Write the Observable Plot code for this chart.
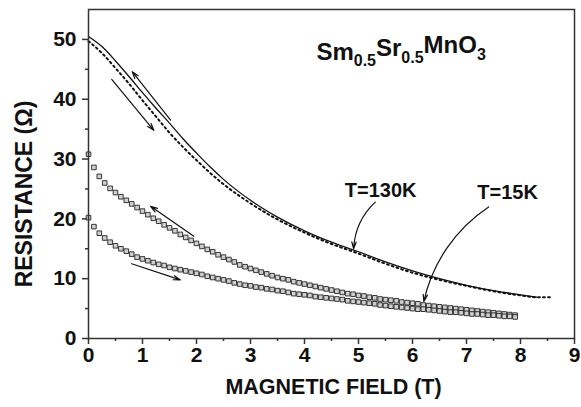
<!DOCTYPE html>
<html><head><meta charset="utf-8">
<script src="https://cdn.jsdelivr.net/npm/d3@7"></script>
<script src="https://cdn.jsdelivr.net/npm/@observablehq/plot@0.6"></script>
<style>body{margin:0;background:#fff} #chart svg{display:block}</style>
</head><body><div id="chart"></div>
<script>
// T = 130 K, field decreasing (solid)
const hotDownField = [0,0.25,0.5,0.75,1,1.25,1.5,1.75,2,2.25,2.5,3,3.5,4,4.5,5,5.5,6,6.5,7,7.5,8,8.3];
const hotDownR     = [50.5,48.8,46.4,43.8,41.1,38.5,36.0,33.4,31.0,28.7,26.6,23.1,20.3,18.0,16.1,14.5,12.8,11.3,10.0,8.9,8.0,7.3,6.9];
// T = 130 K, field increasing (dotted)
const hotUpField = [0,0.25,0.5,0.75,1,1.25,1.5,1.75,2,2.25,2.5,3,3.5,4,4.5,5,5.5,6,6.5,7,7.5,8,8.3,8.6];
const hotUpR     = [49.7,47.7,45.2,42.6,39.8,37.1,34.4,32.0,29.8,27.7,25.8,22.6,19.9,17.7,15.8,14.2,12.5,11.0,9.8,8.8,7.9,7.2,6.9,6.9];
// T = 15 K field values (squares)
const coldField = [0,0.1,0.2,0.3,0.4,0.5,0.6,0.7,0.8,0.9,1,1.1,1.2,1.3,1.4,1.5,1.6,1.7,1.8,1.9,2,2.1,2.2,2.3,2.4,2.5,2.6,2.7,2.8,2.9,3,3.1,3.2,3.3,3.4,3.5,3.6,3.7,3.8,3.9,4,4.1,4.2,4.3,4.4,4.5,4.6,4.7,4.8,4.9,5,5.1,5.2,5.3,5.4,5.5,5.6,5.7,5.8,5.9,6,6.1,6.2,6.3,6.4,6.5,6.6,6.7,6.8,6.9,7,7.1,7.2,7.3,7.4,7.5,7.6,7.7,7.8,7.9];
// T = 15 K, field decreasing (upper branch)
const coldDownR = [30.8,28.6,27.1,26.0,25.1,24.4,23.7,23.1,22.5,21.9,21.3,20.7,20.1,19.6,19.0,18.5,18.0,17.4,16.9,16.4,15.9,15.4,14.9,14.5,14.0,13.6,13.2,12.8,12.3,12.0,11.7,11.4,11.1,10.8,10.5,10.2,10.0,9.8,9.5,9.3,9.1,8.9,8.7,8.5,8.3,8.1,7.9,7.7,7.5,7.4,7.2,7.1,6.9,6.8,6.6,6.5,6.4,6.3,6.1,6.0,5.9,5.8,5.6,5.5,5.4,5.3,5.2,5.1,5.0,4.9,4.8,4.7,4.6,4.5,4.4,4.3,4.2,4.1,4.0,3.9];
// T = 15 K, field increasing (lower branch)
const coldUpR = [20.2,18.7,17.6,16.8,16.1,15.5,15.0,14.6,14.1,13.6,13.3,13.0,12.7,12.4,12.2,11.9,11.7,11.5,11.3,11.1,10.9,10.7,10.4,10.2,10.0,9.8,9.6,9.3,9.1,8.9,8.8,8.6,8.5,8.3,8.2,8.0,7.9,7.7,7.5,7.4,7.3,7.2,7.0,6.9,6.8,6.7,6.6,6.5,6.3,6.2,6.1,6.0,5.9,5.8,5.6,5.5,5.4,5.3,5.2,5.1,5.0,4.9,4.9,4.8,4.7,4.6,4.5,4.4,4.4,4.3,4.2,4.1,4.1,4.0,3.9,3.9,3.8,3.7,3.7,3.6];

const xTicks = [0,1,2,3,4,5,6,7,8,9];
const xMinorTicks = [0.5,1.5,2.5,3.5,4.5,5.5,6.5,7.5,8.5];
const yTicks = [0,10,20,30,40,50];
const yMinorTicks = [5,15,25,35,45];

// straight sweep-direction arrows (data coordinates)
const dirX1 = [1.52,0.43,1.95,0.80];
const dirY1 = [36.5,43.3,17.1,12.5];
const dirX2 = [0.81,1.21,1.15,1.70];
const dirY2 = [44.6,34.8,22.1,9.8];
// curved label arrows
const callX1 = [5.31,7.41];
const callY1 = [22.8,22.0];
const callX2 = [4.91,6.21];
const callY2 = [15.0,6.2];

const labelText = ["T=130K","T=15K"];
const labelX = [5.41,7.76];
const labelY = [24.7,24.4];

const formulaParts = [["Sm",false],["0.5",true],["Sr",false],["0.5",true],["MnO",false],["3",true]];

const hotDown = hotDownField.map((f,i)=>({f, r: hotDownR[i]}));
const hotUp = hotUpField.map((f,i)=>({f, r: hotUpR[i]}));
const coldDown = coldField.map((f,i)=>({f, r: coldDownR[i]}));
const coldUp = coldField.map((f,i)=>({f, r: coldUpR[i]}));
const dirArrows = dirX1.map((_,i)=>({x1: dirX1[i], y1: dirY1[i], x2: dirX2[i], y2: dirY2[i]}));
const callArrows = callX1.map((_,i)=>({x1: callX1[i], y1: callY1[i], x2: callX2[i], y2: callY2[i]}));
const labels = labelText.map((t,i)=>({t, x: labelX[i], y: labelY[i]}));

const font = "'Liberation Sans', Arial, Helvetica, sans-serif";

const chart = Plot.plot({
  width: 581, height: 407,
  marginLeft: 88, marginRight: 7, marginTop: 9, marginBottom: 69,
  x: {domain: [0, 9]},
  y: {domain: [0, 55]},
  style: {fontFamily: font, fontWeight: "bold", background: "white", color: "#111"},
  marks: [
    Plot.axisX({ticks: xTicks, tickSize: 6, tickPadding: 3, fontSize: 21, label: null, stroke: "#333", strokeWidth: 1.5}),
    Plot.axisX({ticks: xMinorTicks, tickSize: 3, tickFormat: () => "", label: null, stroke: "#333", strokeWidth: 1.5}),
    Plot.axisY({ticks: yTicks, tickSize: 6, tickPadding: 6, fontSize: 21, label: null, stroke: "#333", strokeWidth: 1.5}),
    Plot.axisY({ticks: yMinorTicks, tickSize: 3, tickFormat: () => "", label: null, stroke: "#333", strokeWidth: 1.5}),
    Plot.line(hotUp, {x: "f", y: "r", curve: "monotone-x", stroke: "#111", strokeWidth: 2, strokeDasharray: "1.8 3.2"}),
    Plot.line(hotDown, {x: "f", y: "r", curve: "monotone-x", stroke: "#111", strokeWidth: 1.3}),
    Plot.dot(coldDown, {x: "f", y: "r", symbol: "square", r: 2.6, fill: "#d0d0d0", stroke: "#222", strokeWidth: 0.9}),
    Plot.dot(coldUp, {x: "f", y: "r", symbol: "square", r: 2.6, fill: "#d0d0d0", stroke: "#222", strokeWidth: 0.9}),
    Plot.arrow(dirArrows, {x1: "x1", y1: "y1", x2: "x2", y2: "y2", stroke: "#111", strokeWidth: 1.2, headLength: 9, headAngle: 35}),
    Plot.arrow(callArrows, {x1: "x1", y1: "y1", x2: "x2", y2: "y2", bend: -22, stroke: "#111", strokeWidth: 1.2, headLength: 9, headAngle: 35}),
    Plot.text(labels, {x: "x", y: "y", text: "t", fontSize: 20, fontWeight: "bold", fill: "#111", textAnchor: "middle"}),
    Plot.text(["formula"], {x: [4.22], y: [47.9], text: (d) => d, textAnchor: "start", fontSize: 24, fontWeight: "bold", fill: "#111", letterSpacing: "0.6px"}),
    Plot.text(["RESISTANCE (\u03A9)"], {frameAnchor: "left", textAnchor: "middle", rotate: -90, dx: -64, dy: 20, fontSize: 23, fontWeight: "bold", fill: "#111", letterSpacing: "0.4px"}),
    Plot.text(["MAGNETIC FIELD (T)"], {frameAnchor: "bottom", dx: 2, dy: 55, fontSize: 21.5, fontWeight: "bold", fill: "#111"}),
    Plot.frame({stroke: "#333", strokeWidth: 1.5})
  ]
});
document.getElementById("chart").appendChild(chart);

// build the chemical formula with subscripts
const ft = d3.select(chart).selectAll("text").filter(function() { return this.textContent === "formula"; });
ft.text(null);
let sub = false;
formulaParts.forEach(([s, isSub]) => {
  const ts = ft.append("tspan").text(s);
  if (isSub) {
    ts.attr("font-size", 16);
    if (!sub) { ts.attr("dy", "0.4em"); sub = true; }
  } else if (sub) {
    ts.attr("dy", "-0.4em"); sub = false;
  }
});
</script>
</body></html>
